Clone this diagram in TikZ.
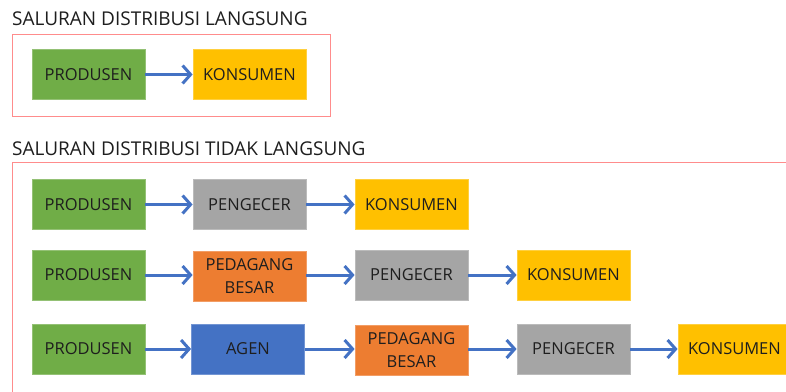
\documentclass[tikz,border=0pt]{standalone}
\usepackage{fontspec}
\setmainfont{Open Sans}
\usetikzlibrary{arrows.meta}

\definecolor{hijau}{HTML}{70AD47}
\definecolor{kuning}{HTML}{FFC000}
\definecolor{abu}{HTML}{A5A5A5}
\definecolor{oranye}{HTML}{ED7D31}
\definecolor{biru}{HTML}{4472C4}
\definecolor{merahmuda}{HTML}{FF8C8C}
\definecolor{teks}{HTML}{1E1E1E}

\begin{document}
\begin{tikzpicture}[x=1pt,y=-1pt,
		kotak/.style={minimum width=113pt,minimum height=50pt,inner sep=0pt,
			draw=#1!75!white,line width=0.8pt,fill=#1,align=center,text=teks,
			font=\fontsize{16.5}{23}\selectfont},
		panah/.style={draw=biru,line width=3pt,
			-{Straight Barb[length=8pt,width=18pt]}},
		bingkai/.style={draw=merahmuda,line width=0.9pt},
		judul/.style={anchor=base west,inner sep=0pt,text=teks,
			font=\fontsize{19}{24}\selectfont}]
		\clip (0,0) rectangle (786,391);
		\fill[white] (0,0) rectangle (786,391);
		
		% saluran langsung
		\node[judul] (j1) at (12,25) {SALURAN DISTRIBUSI LANGSUNG};
		\draw[bingkai] (12,34) rectangle (330,116);
		\node[kotak=hijau] (a1) at (88.5,74.5) {PRODUSEN};
		\node[kotak=kuning] (a2) at (249.5,74.5) {KONSUMEN};
		\draw[panah] (a1) -- (a2);
		
		% saluran tidak langsung
		\node[judul] (j2) at (12,155) {SALURAN DISTRIBUSI TIDAK LANGSUNG};
		\draw[bingkai] (12,162) rectangle (800,400);
		
		\node[kotak=hijau] (b1) at (88.5,204.5) {PRODUSEN};  % tingkat 1
		\node[kotak=abu] (b2) at (249.5,204.5) {PENGECER};
		\node[kotak=kuning] (b3) at (411.5,204.5) {KONSUMEN};
		\draw[panah] (b1) -- (b2);
		\draw[panah] (b2) -- (b3);
		
		\node[kotak=hijau] (c1) at (88.5,275) {PRODUSEN};  % tingkat 2
		\node[kotak=oranye] (c2) at (249.5,276.5) {PEDAGANG\\BESAR};
		\node[kotak=abu] (c3) at (411.5,275) {PENGECER};
		\node[kotak=kuning] (c4) at (573.5,275) {KONSUMEN};
		\draw[panah] (c1) -- (c1 -| c2.west);
		\draw[panah] (c2.east |- c3) -- (c3);
		\draw[panah] (c3) -- (c4);
		
		\node[kotak=hijau] (d1) at (88.5,349) {PRODUSEN};  % tingkat 3
		\node[kotak=biru] (d2) at (248,349) {AGEN};
		\node[kotak=oranye] (d3) at (411.5,350) {PEDAGANG\\BESAR};
		\node[kotak=abu] (d4) at (573.5,349) {PENGECER};
		\node[kotak=kuning] (d5) at (734.5,349) {KONSUMEN};
		\draw[panah] (d1) -- (d2);
		\draw[panah] (d2) -- (d2 -| d3.west);
		\draw[panah] (d3.east |- d4) -- (d4);
		\draw[panah] (d4) -- (d5);
	\end{tikzpicture}
\end{document}
